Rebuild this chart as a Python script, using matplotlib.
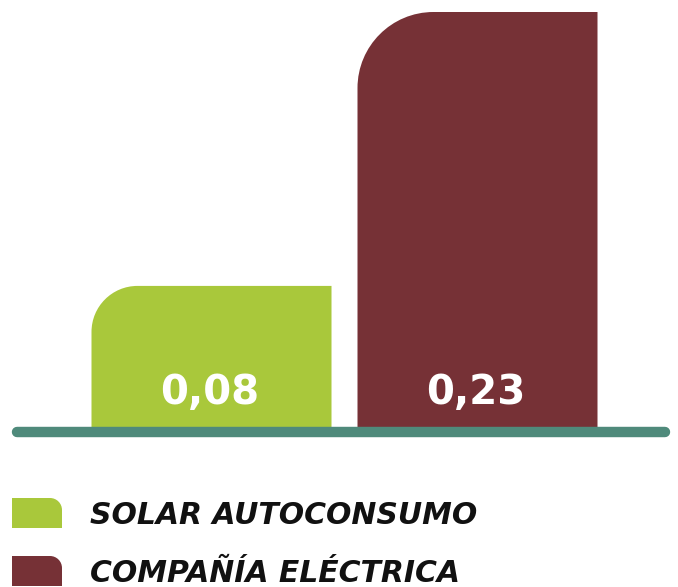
import matplotlib
matplotlib.use("Agg")
import matplotlib.pyplot as plt
from matplotlib.path import Path
from matplotlib.patches import PathPatch

# datos
categorias = ["SOLAR AUTOCONSUMO", "COMPAÑÍA ELÉCTRICA"]
valores = [0.08, 0.23]
etiquetas = ["0,08", "0,23"]
colores = ["#a9c83b", "#763136"]
color_base = "#4f8a7b"

W, H = 678, 587
fig = plt.figure(figsize=(W / 100, H / 100), dpi=100)

# ejes a toda la figura; escala en px para calcular esquinas redondeadas
px_x = 266.0            # px por unidad de categoria
px_y = (432 - 12) / 0.23  # px por unidad de valor
x_c0 = 211.5            # centro de la primera barra en px
y_0 = 432               # linea base (px desde arriba)

ax = fig.add_axes([0, 0, 1, 1])
ax.set_xlim(-x_c0 / px_x, (W - x_c0) / px_x)
ax.set_ylim(-(H - y_0) / px_y, y_0 / px_y)
ax.axis("off")

ancho = 240 / px_x
radios = [46, 76]
k = 0.5523


def barra_redondeada(x, h, w, r):
    rx = r / px_x
    ry = r / px_y
    x0 = x - w / 2
    x1 = x + w / 2
    verts = [
        (x0, 0), (x1, 0), (x1, h), (x0 + rx, h),
        (x0 + rx - k * rx, h), (x0, h - ry + k * ry), (x0, h - ry),
        (x0, 0),
    ]
    codes = [Path.MOVETO, Path.LINETO, Path.LINETO, Path.LINETO,
             Path.CURVE4, Path.CURVE4, Path.CURVE4, Path.CLOSEPOLY]
    return Path(verts, codes)


for i, (v, c, r, et) in enumerate(zip(valores, colores, radios, etiquetas)):
    ax.add_patch(PathPatch(barra_redondeada(i, v, ancho, r), facecolor=c,
                           edgecolor="none", zorder=2))
    ax.text(i - 0.005, (y_0 - 393) / px_y, et, ha="center", va="center",
            color="white", fontsize=29, fontweight="bold",
            family="DejaVu Sans", zorder=3)

# linea base
ax.plot([(17 - x_c0) / px_x, (665 - x_c0) / px_x], [0, 0], color=color_base,
        lw=7.5, solid_capstyle="round", zorder=4)

# leyenda
X = lambda p: (p - x_c0) / px_x
for i, (cat, c) in enumerate(zip(categorias, colores)):
    y_top = 498 + i * 58
    y_bot = y_top + 30
    xl, xr = 12, 62
    r = 12
    h0 = -(y_bot - y_0) / px_y
    h1 = -(y_top - y_0) / px_y
    rx, ry = r / px_x, r / px_y
    verts = [
        (X(xl), h0), (X(xr), h0), (X(xr), h1 - ry),
        (X(xr), h1 - ry + k * ry), (X(xr) - rx + k * rx, h1), (X(xr) - rx, h1),
        (X(xl), h1), (X(xl), h0),
    ]
    codes = [Path.MOVETO, Path.LINETO, Path.LINETO,
             Path.CURVE4, Path.CURVE4, Path.CURVE4,
             Path.LINETO, Path.CLOSEPOLY]
    ax.add_patch(PathPatch(Path(verts, codes), facecolor=c, edgecolor="none"))
    ax.text(X(90), (h0 + h1) / 2 - 2 / px_y, cat, ha="left", va="center",
            fontsize=21.5, fontweight="bold", fontstyle="italic",
            family="DejaVu Sans", color="#111111")

fig.savefig("out.png", dpi=100)
